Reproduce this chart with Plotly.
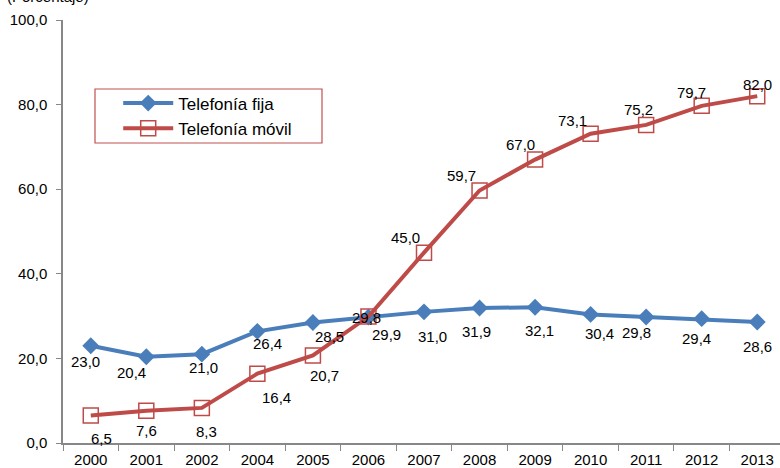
import plotly.graph_objects as go

years = ["2000", "2001", "2002", "2004", "2005", "2006", "2007", "2008", "2009", "2010", "2011", "2012", "2013"]
fija = [23.0, 20.4, 21.0, 26.4, 28.5, 29.8, 31.0, 31.9, 32.1, 30.4, 29.8, 29.4, 28.6]
movil = [6.5, 7.6, 8.3, 16.4, 20.7, 29.9, 45.0, 59.7, 67.0, 73.1, 75.2, 79.7, 82.0]

# label offsets in pixels (dx right, dy down)
fija_off = [(-5, 16), (-15, 16), (2, 13), (10, 12), (17, 14), (-2, 1), (8, 25),
            (-3, 23), (4, 23), (9, 19), (-10, 16), (-5, 20), (0, 24)]
movil_off = [(11, 23), (0, 20), (5, 24), (19, 24), (12, 20), (18, 18), (-19, -15),
             (-18, -15), (-15, -15), (-18, -13), (-8, -15), (-10, -13), (0, -12)]

BLUE = "#4A7EBB"
RED = "#BE4B48"
FONT = "Liberation Sans, Arial, sans-serif"

fig = go.Figure()
fig.add_trace(go.Scatter(
    x=years, y=fija, name="Telefonía fija", mode="lines+markers",
    line=dict(color=BLUE, width=4),
    marker=dict(symbol="diamond", size=13, color=BLUE),
))
fig.add_trace(go.Scatter(
    x=years, y=movil, name="Telefonía móvil", mode="lines+markers",
    line=dict(color=RED, width=4),
    marker=dict(symbol="square-open", size=15, color=RED, line=dict(width=1.5, color=RED)),
))

ann = []
for vals, offs in ((fija, fija_off), (movil, movil_off)):
    for i, (v, (dx, dy)) in enumerate(zip(vals, offs)):
        ann.append(dict(x=i, y=v, xref="x", yref="y", text=f"{v:.1f}".replace(".", ","),
                        showarrow=False, xshift=dx, yshift=-dy,
                        font=dict(family=FONT, size=15, color="#000000")))
ann.append(dict(x=0, y=1, xref="paper", yref="paper", xanchor="left", yanchor="middle",
                xshift=-58, yshift=24, text="(Porcentaje)", showarrow=False,
                font=dict(family=FONT, size=15, color="#000000")))

fig.update_layout(
    width=780, height=468,
    margin=dict(l=63, r=0, t=20, b=25, autoexpand=False),
    paper_bgcolor="white", plot_bgcolor="white",
    separators=",.",
    font=dict(family=FONT, size=15, color="#000000"),
    annotations=ann,
    showlegend=True,
    legend=dict(x=0.077, y=0.845, xanchor="left", yanchor="top",
                bgcolor="rgba(0,0,0,0)", borderwidth=0, itemwidth=50,
                font=dict(family=FONT, size=17, color="#000000"),
                tracegroupgap=0),
    shapes=[dict(type="rect", xref="paper", yref="paper",
                 x0=(95 - 63) / 717, x1=(322 - 63) / 717,
                 y0=(443 - 143) / 423, y1=(443 - 89) / 423,
                 line=dict(color="#C0504D", width=1.2), fillcolor="rgba(0,0,0,0)")],
)
fig.update_xaxes(
    type="category", range=[-0.5, 12.41], automargin=False,
    showline=True, linecolor="#888888", linewidth=1.5,
    ticks="outside", ticklen=6, tickcolor="#888888", tickson="boundaries",
    showgrid=False, zeroline=False, ticklabelstandoff=2,
    tickfont=dict(family=FONT, size=15, color="#000000"),
)
fig.update_yaxes(
    range=[0, 100], dtick=20, tickformat=".1f", automargin=False,
    showline=True, linecolor="#888888", linewidth=1.5,
    ticks="outside", ticklen=5, tickcolor="#888888",
    showgrid=False, zeroline=False, ticklabelstandoff=6,
    tickfont=dict(family=FONT, size=15, color="#000000"),
)

fig.write_html("out.html", config={"displayModeBar": False},
               post_script="document.body.style.margin='0';document.body.style.overflow='hidden';")
